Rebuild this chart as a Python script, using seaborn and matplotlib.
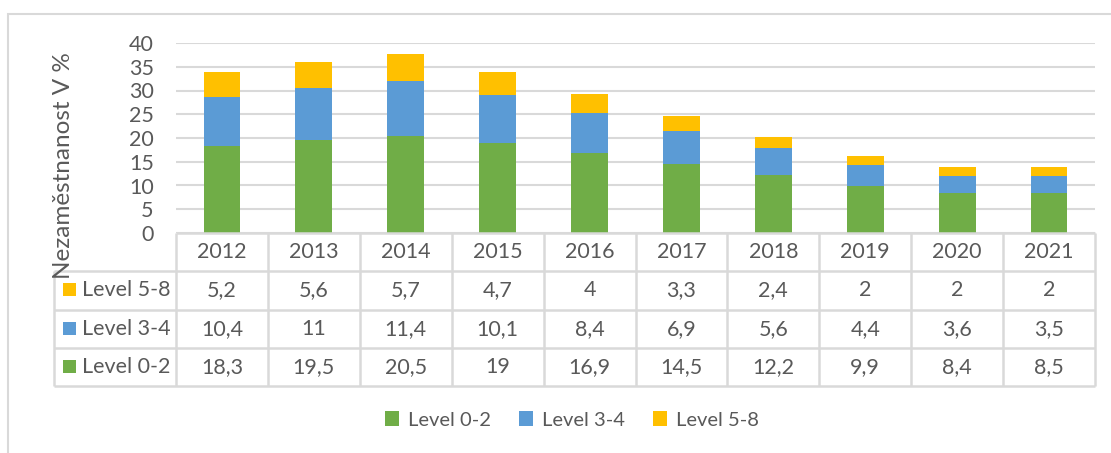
import numpy as np
import pandas as pd
import matplotlib
matplotlib.use('Agg')
import matplotlib.pyplot as plt
from matplotlib.patches import Patch, Rectangle
import seaborn as sns

# ── Data ──────────────────────────────────────────────────────────
years = ['2012', '2013', '2014', '2015', '2016', '2017', '2018', '2019', '2020', '2021']
level_0_2 = [18.3, 19.5, 20.5, 19.0, 16.9, 14.5, 12.2, 9.9, 8.4, 8.5]
level_3_4 = [10.4, 11.0, 11.4, 10.1, 8.4, 6.9, 5.6, 4.4, 3.6, 3.5]
level_5_8 = [5.2, 5.6, 5.7, 4.7, 4.0, 3.3, 2.4, 2.0, 2.0, 2.0]
series_names = ['Level 0-2', 'Level 3-4', 'Level 5-8']
ylabel = 'Nezaměstnanost V %'

# ── Style ─────────────────────────────────────────────────────────
sns.set_style('white')
plt.rcParams['font.family'] = ['Lato', 'DejaVu Sans']
TXT = '#595959'
GRID = '#D9D9D9'
COLORS = {'Level 0-2': '#70AD47', 'Level 3-4': '#5B9BD5', 'Level 5-8': '#FFC000'}
FS = 15.5

W, H = 1111, 453
fig = plt.figure(figsize=(W / 100, H / 100), dpi=100)

# outer chart border
fig.patches.append(Rectangle((8 / W, -0.2), 2, 1.2 - 14 / H, transform=fig.transFigure,
                             fill=False, edgecolor=GRID, lw=1.5))

# plot area
px_l, px_r, py_t, py_b = 176, 1095, 43, 233
ax = fig.add_axes([px_l / W, 1 - py_b / H, (px_r - px_l) / W, (py_b - py_t) / H])

df = pd.DataFrame({'year': years, 'Level 0-2': level_0_2,
                   'Level 3-4': level_3_4, 'Level 5-8': level_5_8})
bottom = np.zeros(len(years))
for name in series_names:
    sns.barplot(data=df, x='year', y=name, color=COLORS[name], width=0.4,
                bottom=bottom, ax=ax, saturation=1, linewidth=0)
    bottom = bottom + df[name].values

ax.set_xlim(-0.5, len(years) - 0.5)
ax.set_ylim(0, 40)
ax.set_yticks(range(0, 41, 5))
ax.yaxis.grid(True, color=GRID, lw=1.5)
ax.set_axisbelow(True)
ax.set_xticks([])
ax.set_xlabel('')
ax.set_ylabel('')
for s in ax.spines.values():
    s.set_visible(False)
ax.tick_params(axis='y', length=0, pad=16, labelsize=FS, labelcolor=TXT)

fig.text(63 / W, 1 - 166 / H, ylabel, rotation=90, ha='center', va='center',
         fontsize=17.5, color=TXT)

# data table
lab_l = 54
col_w = (px_r - px_l) / len(years)
lab_w = (px_l - lab_l) / col_w
tb_t, tb_b = 233, 386
tab = fig.add_axes([lab_l / W, 1 - tb_b / H, (px_r - lab_l) / W, (tb_b - tb_t) / H])
tab.set_xlim(-0.5 - lab_w, len(years) - 0.5)
tab.set_ylim(0, 4)
tab.axis('off')

rows = [('Level 5-8', level_5_8), ('Level 3-4', level_3_4), ('Level 0-2', level_0_2)]
lkw = dict(color=GRID, lw=1.8, clip_on=False)
# horizontal lines
tab.hlines(4, -0.5, len(years) - 0.5, **lkw)
for r in range(4):
    tab.hlines(r, -0.5 - lab_w, len(years) - 0.5, **lkw)
# vertical lines
for c in range(len(years) + 1):
    tab.vlines(c - 0.5, 0, 4, **lkw)
tab.vlines(-0.5 - lab_w, 0, 3, **lkw)

for i, y in enumerate(years):
    tab.text(i, 3.5, y, ha='center', va='center', fontsize=FS, color=TXT)
for r, (name, vals) in enumerate(rows):
    yc = 2.5 - r
    for i, v in enumerate(vals):
        tab.text(i, yc, f'{v:g}'.replace('.', ','), ha='center', va='center',
                 fontsize=FS, color=TXT)
    tab.add_patch(Rectangle((-0.5 - lab_w + 9 / col_w, yc - 0.16), 13 / col_w, 0.34,
                            color=COLORS[name], lw=0))
    tab.text(-0.5 - lab_w + 28 / col_w, yc, name, ha='left', va='center',
             fontsize=FS, color=TXT)

# legend
handles = [Patch(facecolor=COLORS[n], edgecolor='none', label=n) for n in series_names]
fig.legend(handles=handles, loc='center', bbox_to_anchor=(572 / W, 1 - 420 / H), ncol=3,
           frameon=False, fontsize=14.5, labelcolor=TXT, handlelength=0.7,
           handleheight=0.7, handletextpad=0.45, columnspacing=1.4)

fig.savefig('out.png', dpi=100)
